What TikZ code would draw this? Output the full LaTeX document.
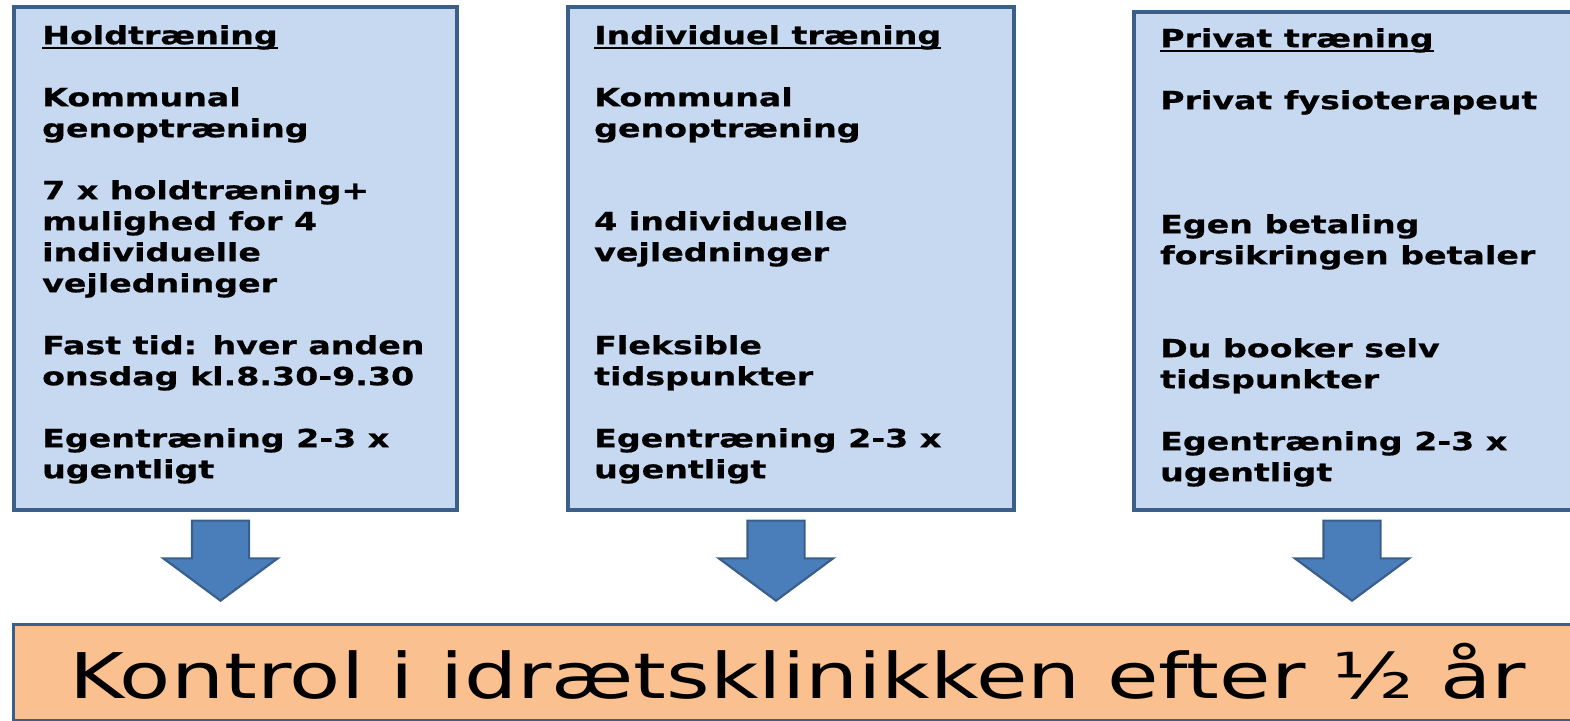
\documentclass[tikz,border=0pt]{standalone}
\usepackage{fontspec}
\setmainfont{DejaVu Sans}[FakeStretch=1.33, BoldFeatures={FakeBold=0.8}]
\usepackage{tikz}
\usetikzlibrary{positioning,calc,shapes.arrows}
\definecolor{panelblue}{HTML}{C6D9F1}
\definecolor{paneledge}{HTML}{3A5F8B}
\definecolor{arrowblue}{HTML}{4A7EBB}
\definecolor{ctrlorange}{HTML}{FAC08F}
\newcommand{\ulhead}[1]{\setbox0=\hbox{#1}\hbox{\rlap{\rule[-4.5pt]{\wd0}{2.2pt}}\box0}}
\tikzset{
  panel/.style={draw=paneledge, fill=panelblue, line width=3.8pt, anchor=north west, inner sep=0pt},
  paneltext/.style={anchor=north west, align=left, inner sep=0pt, font=\bfseries\fontsize{25}{31}\selectfont},
  blockarrow/.style={single arrow, draw=paneledge, fill=arrowblue, line width=2.2pt, shape border rotate=270,
        minimum height=80pt, single arrow head extend=28.5pt, single arrow tip angle=107,
        inner xsep=27.5pt, inner ysep=0pt, anchor=tip},
}

\begin{document}
\begin{tikzpicture}[x=1pt,y=-1pt]
\useasboundingbox (0,0) rectangle (1570,720);

\node[panel, minimum width=443pt, minimum height=503pt] (hold) at (12,5) {};
\node[panel, minimum width=446pt, minimum height=503pt] (indiv) at (566,5) {};
\node[panel, minimum width=450pt, minimum height=498pt] (priv) at (1132,10) {};

\node[paneltext] (holdtxt) at ($(hold.north west)+(30,20)$) {\ulhead{Holdtræning}\\[31pt]
  Kommunal\\ genoptræning\\[31pt]
  7 x holdtræning+\\ mulighed for 4\\ individuelle\\ vejledninger\\[31pt]
  Fast tid: hver anden\\ onsdag kl.8.30-9.30\\[31pt]
  Egentræning 2-3 x\\ ugentligt};
\node[paneltext] (indivtxt) at ($(indiv.north west)+(28,20)$) {\ulhead{Individuel træning}\\[31pt]
  Kommunal\\ genoptræning\\[62pt]
  4 individuelle\\ vejledninger\\[62pt]
  Fleksible\\ tidspunkter\\[31pt]
  Egentræning 2-3 x\\ ugentligt};
\node[paneltext] (privtxt) at ($(priv.north west)+(28,18)$) {\ulhead{Privat træning}\\[31pt]
  Privat fysioterapeut\\[93pt]
  Egen betaling\\ forsikringen betaler\\[62pt]
  Du booker selv\\ tidspunkter\\[31pt]
  Egentræning 2-3 x\\ ugentligt};

\node[blockarrow] (holdarrow) at (220.5,602) {};
\node[blockarrow] (indivarrow) at (776,602) {};
\node[blockarrow] (privarrow) at (1352,602) {};

\node[draw=paneledge, fill=ctrlorange, line width=3pt, anchor=north west, inner sep=0pt,
      minimum width=1580pt, minimum height=96pt] (ctrl) at (12,623) {};
\node[anchor=base, inner sep=0pt, font=\fontsize{63}{70}\selectfont] (ctrltxt) at (797.5,698) {Kontrol i idrætsklinikken efter ½ år};
\end{tikzpicture}
\end{document}
